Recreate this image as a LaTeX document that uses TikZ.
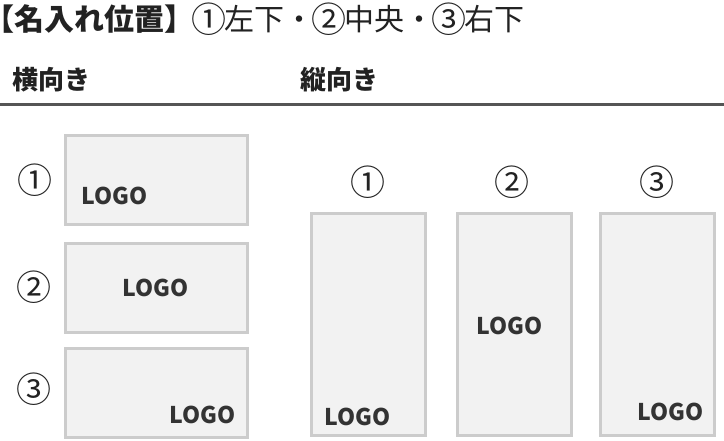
\documentclass[tikz,border=0pt]{standalone}
\usepackage{fontspec}
\newfontfamily\jp{Noto Sans CJK JP}
\definecolor{boxline}{HTML}{CCCCCC}
\definecolor{boxfill}{HTML}{F2F2F2}
\definecolor{rule}{HTML}{555555}
\definecolor{txt}{HTML}{222222}
\definecolor{logo}{HTML}{333333}
\newcommand\tcirc[1]{\makebox[30pt]{\raisebox{-2pt}{\fontsize{35}{35}\selectfont #1}}}
\begin{document}
\begin{tikzpicture}[x=1pt,y=-1pt,
  hbox/.style={draw=boxline, fill=boxfill, line width=3pt, minimum width=182pt, minimum height=89pt, inner sep=0pt, outer sep=0pt},
  vbox/.style={draw=boxline, fill=boxfill, line width=3pt, minimum width=114pt, minimum height=222pt, inner sep=0pt, outer sep=0pt},
  logotext/.style={text=logo, font=\jp\bfseries\fontsize{23}{23}\selectfont, inner sep=0pt},
  num/.style={text=txt, font=\jp\fontsize{35}{35}\selectfont, inner sep=0pt},
  head/.style={text=txt, font=\jp\bfseries\fontsize{26}{26}\selectfont, inner sep=0pt, anchor=west}]
\useasboundingbox (0,0) rectangle (724,440);
\node[text=txt, font=\jp\fontsize{30}{30}\selectfont, inner sep=0pt, anchor=west] (title) at (0,19) {\hspace*{-16pt}{\bfseries 【名入れ位置】}\tcirc{①}左下・\tcirc{②}中央・\tcirc{③}右下};
\node[head] (yoko) at (12,80) {横向き};
\node[head] (tate) at (300,80) {縦向き};
\coordinate (rl) at (0,104.5);
\coordinate (rr) at (724,104.5);
\draw[rule, line width=3pt] (rl) -- (rr);
% landscape
\node[hbox] (h1) at (156.5,179.5) {};
\node[hbox] (h2) at (156.5,288) {};
\node[hbox] (h3) at (156.5,393) {};
\node[num] (hn1) at (34.5,180) {①};
\node[num] (hn2) at (34,287) {②};
\node[num] (hn3) at (34,389) {③};
\node[logotext] (hl1) at (114.5,196) {LOGO};
\node[logotext] (hl2) at (155.5,288) {LOGO};
\node[logotext] (hl3) at (202.5,415) {LOGO};
% portrait
\node[vbox] (v1) at (368.5,324.5) {};
\node[vbox] (v2) at (514.5,324.5) {};
\node[vbox] (v3) at (657.5,324.5) {};
\node[num] (vn1) at (368,182) {①};
\node[num] (vn2) at (512,182) {②};
\node[num] (vn3) at (657,182) {③};
\node[logotext] (vl1) at (357.5,417) {LOGO};
\node[logotext] (vl2) at (509.5,326) {LOGO};
\node[logotext] (vl3) at (670.5,412) {LOGO};
\end{tikzpicture}
\end{document}
